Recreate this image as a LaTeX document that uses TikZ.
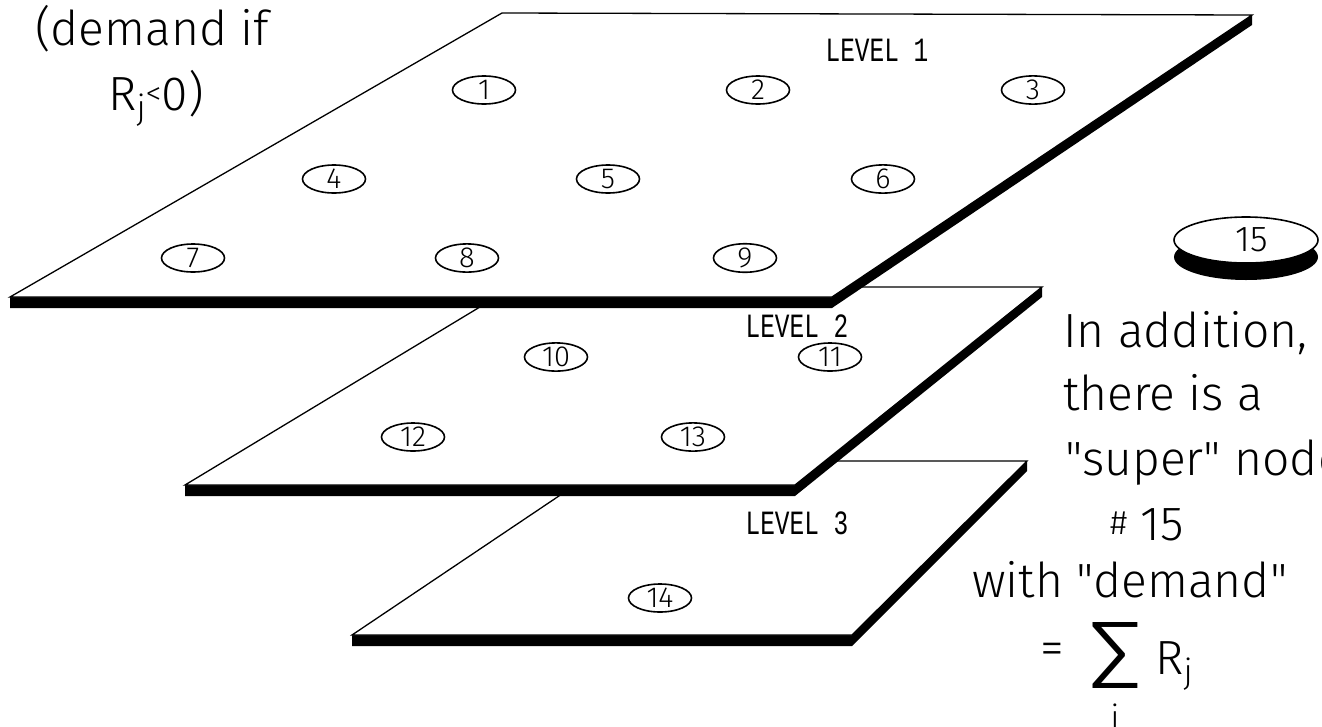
\documentclass[tikz,border=0pt]{standalone}
\usepackage{fontspec}
\newfontfamily\notefont{Fira Sans}[UprightFont=* Light]
\newfontfamily\lvlfont[FakeStretch=0.72]{Liberation Mono}
\usetikzlibrary{shapes.geometric}

\begin{document}
\begin{tikzpicture}[x=1pt,y=-1pt,
  plane/.style={fill=white,draw=black,line width=1.3pt,line join=miter},
  slab/.style={fill=black},
  site/.style={ellipse,draw=black,line width=1.6pt,fill=white,
    minimum width=63pt,minimum height=28pt,inner sep=0pt,
    font=\notefont\fontsize{29}{29}\selectfont},
  levellabel/.style={font=\lvlfont\fontsize{34}{34}\selectfont,inner sep=0pt},
  note/.style={font=\notefont\fontsize{48}{48}\selectfont,inner sep=0pt,anchor=base west}]

\useasboundingbox (0,0) rectangle (1322,726);
\clip (0,0) rectangle (1322,726);

% ---- level 3 plate ----
\fill[slab] (352,635) -- (852,635) -- (1027,461) -- (1027,471) -- (852,646) -- (352,646) -- cycle;
\draw[plane] (352,635) -- (611,461) -- (1027,461) -- (852,635) -- cycle;

% ---- level 2 plate ----
\fill[slab] (185,485) -- (795,485) -- (1042,287) -- (1042,297) -- (795,496) -- (185,496) -- cycle;
\draw[plane] (185,485) -- (513,287) -- (1042,287) -- (795,485) -- cycle;

% ---- level 1 plate ----
\fill[slab] (10,297) -- (832,297) -- (1252,15) -- (1252,25) -- (832,308) -- (10,308) -- cycle;
\draw[plane] (10,297) -- (502,13) -- (1252,15) -- (832,297) -- cycle;

% ---- level captions ----
\node[levellabel] (lv1) at (877,50)  {LEVEL 1};
\node[levellabel] (lv2) at (797,326) {LEVEL 2};
\node[levellabel] (lv3) at (797,523) {LEVEL 3};

% ---- sites on level 1 ----
\node[site] (n1) at (484,90)  {1};
\node[site] (n2) at (758,90)  {2};
\node[site] (n3) at (1033,90) {3};
\node[site] (n4) at (334,179) {4};
\node[site] (n5) at (608,179) {5};
\node[site] (n6) at (883,179) {6};
\node[site] (n7) at (193,258) {7};
\node[site] (n8) at (467,258) {8};
\node[site] (n9) at (745,258) {9};

% ---- sites on level 2 ----
\node[site] (n10) at (556,357) {10};
\node[site] (n11) at (830,357) {11};
\node[site] (n12) at (413,437) {12};
\node[site] (n13) at (693,437) {13};

% ---- site on level 3 ----
\node[site] (n14) at (660,598) {14};

% ---- super node ----
\fill (1246,257) ellipse [x radius=72pt,y radius=23pt];
\node[site,minimum width=144pt,minimum height=46pt,
  font=\notefont\fontsize{36}{36}\selectfont] (n15) at (1246,240) {\hspace*{12pt}15};

% ---- annotations ----
\node[note] (d1) at (35,45) {(demand if};
\node[note] (d2) at (108,110) {R\raisebox{-9pt}{\fontsize{34}{34}\selectfont j}{\fontsize{32}{32}\selectfont\raisebox{6pt}{<}}0)};

\node[note] (r1) at (1063,347) {In addition,};
\node[note] (r2) at (1063,410) {there is a};
\node[note] (r3) at (1065,475) {"super" node};
\node[note] (r4) at (1110,540) {{\fontsize{34}{34}\selectfont\raisebox{6pt}{\#}} 15};
\node[note] (r5) at (972,597)  {with "demand"};
\node[note] (r6) at (1040,664) {=};
\node[inner sep=0pt,font=\notefont\fontsize{72}{72}\selectfont] (sig) at (1115,655)
  {\resizebox*{58pt}{66pt}{∑}};
\node[note] (r7) at (1155,674) {R\raisebox{-9pt}{\fontsize{34}{34}\selectfont j}};
\node[inner sep=0pt,anchor=north,font=\notefont\fontsize{34}{34}\selectfont] (sub) at (1115,704) {i};
\end{tikzpicture}
\end{document}
